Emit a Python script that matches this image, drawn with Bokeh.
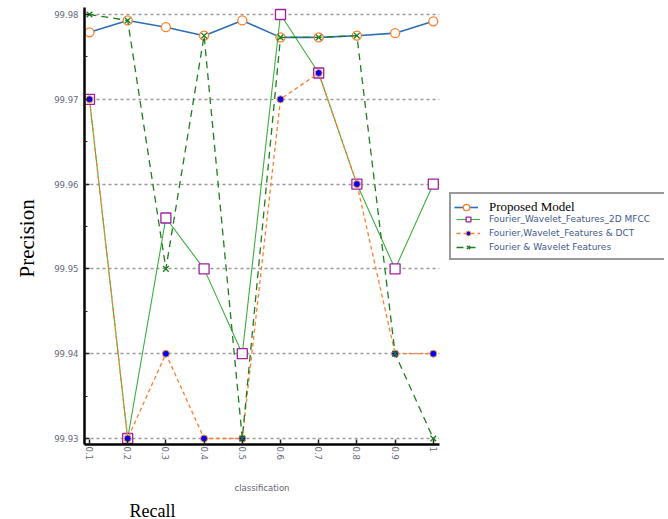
import math
from bokeh.plotting import figure
from bokeh.models import Range1d, FixedTicker, Legend, LegendItem, Title, BoxAnnotation
from bokeh.embed import file_html
from bokeh.resources import INLINE

# ---- data ----
recall = [0.1, 0.2, 0.3, 0.4, 0.5, 0.6, 0.7, 0.8, 0.9, 1.0]
recall_labels = ["0.1", "0.2", "0.3", "0.4", "0.5", "0.6", "0.7", "0.8", "0.9", "1"]

proposed = [99.9779, 99.9793, 99.9785, 99.9775, 99.9793, 99.9773, 99.9773, 99.9775, 99.9778, 99.9792]
mfcc_2d = [99.970, 99.930, 99.956, 99.950, 99.940, 99.980, 99.9731, 99.960, 99.950, 99.960]
dct = [99.970, 99.930, 99.940, 99.930, 99.930, 99.970, 99.9731, 99.960, 99.940, 99.940]
fourier_wavelet = [99.980, 99.9793, 99.950, 99.9775, 99.930, 99.9773, 99.9773, 99.9775, 99.940, 99.930]

series_names = [
    "Proposed Model",
    "Fourier_Wavelet_Features_2D MFCC",
    "Fourier,Wavelet_Features & DCT",
    "Fourier & Wavelet Features",
]
y_ticks = [99.93, 99.94, 99.95, 99.96, 99.97, 99.98]
y_tick_labels = ["99.93", "99.94", "99.95", "99.96", "99.97", "99.98"]
y_minor = [(a + b) / 2 for a, b in zip(y_ticks[:-1], y_ticks[1:])]

x_title = "classification"
outer_x_title = "Recall"
y_title = "Precision"

# axis extent (data units) of the chart area; the frame continues to the right for the legend
x_axis_start, x_axis_end = 0.08696, 1.01566
x_frame_end = 1.60522
y_start, y_end = 99.929292, 99.980825

p = figure(width=664, height=519, output_backend="svg", toolbar_location=None,
           x_range=Range1d(x_axis_start, x_frame_end), y_range=Range1d(y_start, y_end),
           min_border_left=82, min_border_right=0, min_border_top=7, min_border_bottom=75)
p.outline_line_color = None
p.background_fill_color = "white"
p.border_fill_color = "white"
p.xgrid.visible = False
p.ygrid.grid_line_color = "#9a9a9a"
p.ygrid.grid_line_dash = "3 3"
p.ygrid.grid_line_width = 1.3

# white mask so the grid lines stop at the end of the x axis
p.add_layout(BoxAnnotation(left=x_axis_end, fill_color="white", fill_alpha=1.0,
                           line_color=None, level="underlay"))

# axes
p.xaxis.ticker = FixedTicker(ticks=recall)
p.xaxis.bounds = (x_axis_start, x_axis_end)
p.xaxis.major_label_overrides = dict(zip(recall, recall_labels))
p.xaxis.major_label_orientation = -math.pi / 2
p.yaxis.ticker = FixedTicker(ticks=y_ticks, minor_ticks=y_minor)
p.yaxis.major_label_overrides = dict(zip(y_ticks, y_tick_labels))
for ax in (p.xaxis[0], p.yaxis[0]):
    ax.axis_line_width = 2.5
    ax.axis_line_color = "black"
    ax.major_tick_in = 5
    ax.major_tick_out = 0
    ax.major_tick_line_width = 1.5
    ax.major_tick_line_color = "#222222"
    ax.minor_tick_in = 3
    ax.minor_tick_out = 0
    ax.minor_tick_line_color = "#222222"
    ax.major_label_text_font = "DejaVu Sans"
    ax.major_label_text_font_size = "8.5px"
    ax.major_label_text_color = "#66667a"
p.yaxis.major_label_standoff = 6
p.xaxis.major_label_standoff = 2
p.xaxis.minor_tick_line_color = None

# series
r1l = p.line(recall, proposed, line_color="#2e6db4", line_width=1.6)
r1m = p.scatter(recall, proposed, marker="circle", size=9, line_color="#ff7f2a",
                fill_color="white", line_width=1.3)
r2l = p.line(recall, mfcc_2d, line_color="#3cae3c", line_width=1.1)
r2m = p.scatter(recall, mfcc_2d, marker="square", size=10, line_color="#a020a0",
                fill_color="white", line_width=1.3)
r3l = p.line(recall, dct, line_color="#ff7f2a", line_dash="4 3", line_width=1.3)
r3m = p.scatter(recall, dct, marker="circle", size=7, fill_color="#0000ff",
                line_color="#ff9a40", line_width=1)
r4l = p.line(recall, fourier_wavelet, line_color="#1e7d1e", line_dash="7 5", line_width=1.3)
r4m = p.scatter(recall, fourier_wavelet, marker="x", size=8, line_color="#1e7d1e", line_width=1.3)

# empty, transparent placeholder: keeps the first row of the boxed legend free
r_blank = p.line(x=[], y=[], line_alpha=0)

# main legend box (first row's glyph + serif caption come from the overlay legend below)
leg_x, leg_y, leg_pad = 365, 184, 5
legend = Legend(items=[
    LegendItem(label=" ", renderers=[r_blank]),
    LegendItem(label=series_names[1], renderers=[r2l, r2m]),
    LegendItem(label=series_names[2], renderers=[r3l, r3m]),
    LegendItem(label=series_names[3], renderers=[r4l, r4m]),
], location=(leg_x, leg_y))
legend.padding = leg_pad
legend.spacing = 2
legend.margin = 0
legend.glyph_height = 12
legend.glyph_width = 24
legend.label_height = 12
legend.label_standoff = 9
legend.label_width = 170
legend.border_line_color = "#333333"
legend.border_line_width = 2.5
legend.background_fill_color = "white"
legend.background_fill_alpha = 1.0
legend.label_text_font = "DejaVu Sans"
legend.label_text_font_size = "9px"
legend.label_text_color = "#44598a"
p.add_layout(legend)

legend_top = Legend(items=[LegendItem(label=series_names[0], renderers=[r1l, r1m])],
                    location=(leg_x + leg_pad, leg_y + 45))
legend_top.padding = 0
legend_top.spacing = 0
legend_top.margin = 0
legend_top.glyph_height = 16
legend_top.glyph_width = 24
legend_top.label_height = 16
legend_top.label_standoff = 11
legend_top.border_line_color = None
legend_top.background_fill_alpha = 0.0
legend_top.label_text_font = "Liberation Serif"
legend_top.label_text_font_size = "13px"
legend_top.label_text_color = "black"
p.add_layout(legend_top)

p.add_layout(Title(text=x_title, align="left", offset=150, standoff=34,
                   text_font="DejaVu Sans", text_font_size="8.5px",
                   text_font_style="normal", text_color="#666670"), "below")
p.add_layout(Title(text=outer_x_title, align="left", offset=45, standoff=-22,
                   text_font="Liberation Serif", text_font_size="18px",
                   text_font_style="normal", text_color="black"), "below")
p.add_layout(Title(text=y_title, align="left", offset=167, standoff=25,
                   text_font="Liberation Serif", text_font_size="21px",
                   text_font_style="normal", text_color="black"), "left")

open("out.html", "w").write(file_html(p, INLINE))
